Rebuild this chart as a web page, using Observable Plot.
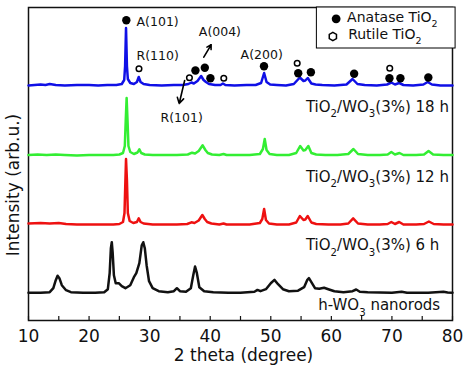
<!DOCTYPE html>
<html><head><meta charset="utf-8">
<script src="https://cdn.jsdelivr.net/npm/d3@7"></script>
<script src="https://cdn.jsdelivr.net/npm/@observablehq/plot@0.6"></script>
<style>body{margin:0;background:#fff}</style>
</head><body><div id="chart"></div>
<script>
// XRD patterns: [2theta (deg), relative intensity (arb. u.)]
const h18 = [[10,0.5],[11,1],[12,1.5],[12.8,1],[13.5,2],[14.5,1],[16,0.5],[18,1],[20,1],[21.5,0.5],[23,1],[24.5,1],[25.4,2],[25.8,6],[25.95,20],[26.1,58],[26.25,20],[26.4,7],[26.8,3],[27.4,2],[27.9,4],[28.2,9],[28.5,4],[29,2],[30,1],[32,0.5],[34,1],[35.5,1],[36.4,2],[36.9,3.5],[37.3,2.5],[37.9,5],[38.5,10],[38.9,6],[39.3,4],[39.8,2],[40.8,1],[41.7,1],[42.1,2.5],[42.5,1],[44,0.5],[46,1],[47.5,1],[48.4,3],[48.9,13],[49.3,4],[49.9,1.5],[51,1],[52.5,0.5],[53.8,2],[54.8,8.5],[55.4,5],[55.7,5.5],[56.1,8],[56.7,2.5],[57.4,1.5],[58.5,1],[60.5,0.5],[62.5,1.5],[63.5,7],[64.3,2],[65.5,1],[67.5,0.5],[69.2,1.5],[69.9,3.5],[70.5,1.5],[71.2,3],[71.9,1],[73.5,0.5],[75.2,1.5],[75.9,4],[76.6,1.5],[78,0.5],[80,0.5]];
const h12 = [[10,1],[11.5,1.5],[13,1],[14.5,1.5],[16,1],[18,0.5],[20,1],[22,1],[24,1],[25,1.5],[25.6,3],[25.9,10],[26.05,35],[26.2,58],[26.35,35],[26.5,10],[26.8,4],[27.4,2],[28,3.5],[28.3,6.7],[28.6,3],[29.2,1.5],[30.5,1],[32.5,1],[34.5,1],[36.3,1.5],[37.0,3.3],[37.5,2.5],[38.1,5],[38.75,10.7],[39.2,6],[39.6,3],[40.3,1.5],[41.5,1],[42.2,2],[42.7,1],[44.5,1],[46.5,1],[48.2,2],[48.7,7],[49.0,17],[49.3,6],[49.8,2],[51,1],[53,1],[54.2,3],[54.85,10],[55.4,5.5],[55.7,6],[56.2,10],[56.7,3],[57.5,1.5],[59,1],[61,1],[62.8,2],[63.65,7],[64.4,2],[66,1],[68,1],[69.3,1.5],[69.9,4],[70.5,1.5],[71.25,3],[71.9,1],[74,1],[75.3,1.5],[76.05,5],[76.8,1.5],[78.5,1],[80,1]];
const h6 = [[10,1.5],[12,2],[13.5,1.5],[15,2],[16.2,1],[18,0.5],[20,0.5],[22,0.5],[24,0.5],[25,1],[25.6,3],[25.85,12],[26.0,45],[26.1,66],[26.25,45],[26.4,12],[26.7,4],[27.3,2],[27.9,3],[28.2,6.7],[28.5,3],[29,1.5],[30.5,0.5],[32.5,0.5],[34.5,0.5],[36.2,1],[36.9,2.7],[37.4,2],[38.1,4.5],[38.7,10],[39.1,6],[39.5,3],[40.2,1.5],[41.5,0.5],[42.2,1.5],[42.7,0.5],[44.5,0.5],[46.5,0.5],[48.2,2],[48.6,6],[48.9,16],[49.2,5],[49.7,1.5],[51,0.5],[53,0.5],[54.2,2.5],[54.8,9],[55.4,5],[55.7,5.5],[56.1,9],[56.7,2.5],[57.5,1],[59.5,0.5],[61.5,0.5],[62.8,1.5],[63.6,6.7],[64.4,1.5],[66,0.5],[68,0.5],[69.3,1],[69.9,3],[70.5,1],[71.2,3],[71.9,0.5],[74,0.5],[75.3,1],[76.1,3.5],[76.9,1],[78.5,0.5],[80,0.5]];
const hWO3 = [[10,0.5],[12,0.5],[13.5,1],[14.1,5],[14.5,13],[14.8,17.5],[15.1,15],[15.5,8],[16.2,3],[17,1],[19,0.5],[21,0.5],[22.5,1],[23.1,4],[23.4,20],[23.6,45],[23.75,51],[23.9,40],[24.1,18],[24.4,10],[24.9,10],[25.4,7],[26,5],[26.8,8],[27.4,16],[27.8,20],[28.3,30],[28.7,48],[28.95,51],[29.2,45],[29.5,28],[29.9,12],[30.5,5],[31.5,2],[33,1],[34,2],[34.5,5],[35,2],[36,1.5],[36.8,5],[37.2,18],[37.5,26.7],[37.8,20],[38.2,6],[39,2],[40.5,1],[43,0.5],[45,0.5],[47.3,1.5],[47.8,3.3],[48.3,2],[49.2,4],[50,10],[50.6,13.3],[51.2,9],[52,4],[53,2],[54.5,2.5],[55.5,6],[56.0,13],[56.3,15],[56.7,11],[57.3,5],[58,4.5],[58.8,5.5],[59.5,4],[60.5,2],[62,1],[63.5,2],[64.1,3.7],[64.7,1.5],[66,1],[70,0.5],[71.6,1.5],[72.5,0.5],[76,0.5],[78.5,1.5],[79.2,0.8],[80,0.5]];

// vertical offsets of the stacked patterns
const offsets = {h18: 234.5, h12: 164.5, h6: 95.5, hWO3: 27.3};
const sampleNames = ["TiO_2/WO_3(3%) 18 h", "TiO_2/WO_3(3%) 12 h", "TiO_2/WO_3(3%) 6 h", "h-WO_3 nanorods"];

// phase markers above the 18 h pattern: [2theta, level]
const anatasePeaks = [[26.15,300.3],[37.56,250],[39.11,252.7],[40.03,242.3],[48.88,254.3],[54.53,247.3],[56.62,248.3],[63.76,246.7],[69.59,242.3],[71.40,242.3],[76.01,243]];
const rutilePeaks = [[28.24,251.7],[36.57,242.7],[42.24,242.3],[54.36,257.3],[69.64,252.3]];
const peakLabels = ["A(101)", "R(110)", "A(004)", "R(101)", "A(200)"];
const legendNames = ["Anatase TiO_2", "Rutile TiO_2"];

const xTickLabels = [10,20,30,40,50,60,70,80];
const xTicks = [10,15,20,25,30,35,40,45,50,55,60,65,70,75,80];

const ln = (data, key, color) => Plot.line(data, {x: d => d[0], y: d => d[1] + offsets[key], stroke: color, strokeWidth: 2.5, strokeLinejoin: "round"});

const chart = Plot.plot({
  width: 468, height: 377,
  marginLeft: 28, marginRight: 16, marginTop: 7, marginBottom: 57,
  x: {domain: [10, 80]},
  y: {domain: [0, 313], axis: null},
  style: {fontFamily: "DejaVu Sans, sans-serif", fontSize: "13px", color: "#111", background: "white", overflow: "visible"},
  marks: [
    Plot.frame({stroke: "#111", strokeWidth: 1.5}),
    Plot.ruleX(xTicks, {x: d => d, y1: 0, y2: 4, stroke: "#111", strokeWidth: 1.2}),
    Plot.axisX(xTickLabels, {tickSize: 0, tickPadding: 9, fontSize: 17, label: null}),
    Plot.text(["2 theta (degree)"], {frameAnchor: "bottom", dx: 3, dy: 40, fontSize: 17}),
    Plot.text(["Intensity (arb.u.)"], {frameAnchor: "left", textAnchor: "middle", rotate: -90, dx: -15, dy: 21, fontSize: 17}),
    ln(hWO3, "hWO3", "#111111"),
    ln(h6, "h6", "#ee1111"),
    ln(h12, "h12", "#33ee33"),
    ln(h18, "h18", "#1010e6"),
    Plot.dot(anatasePeaks, {x: d => d[0], y: d => d[1], r: 4.2, fill: "black", ariaLabel: "anatase"}),
    Plot.dot(rutilePeaks, {x: d => d[0], y: d => d[1], r: 2.8, fill: "white", stroke: "black", strokeWidth: 1.5, ariaLabel: "rutile"}),
    Plot.text([peakLabels[0]], {x: 27.84, y: 298.3, textAnchor: "start", fontSize: 12.5}),
    Plot.text([peakLabels[1]], {x: 27.84, y: 265, textAnchor: "start", fontSize: 12.5}),
    Plot.text([peakLabels[2]], {x: 38.12, y: 288.3, textAnchor: "start", fontSize: 12.5}),
    Plot.text([peakLabels[3]], {x: 31.8, y: 202.7, textAnchor: "start", fontSize: 12.5}),
    Plot.text([peakLabels[4]], {x: 48.5, y: 265.7, textAnchor: "middle", fontSize: 12.5}),
    Plot.arrow([0], {x1: 38.94, y1: 263.3, x2: 40.15, y2: 275.7, stroke: "black", strokeWidth: 1.6, headLength: 6}),
    Plot.arrow([0], {x1: 35.78, y1: 240, x2: 34.88, y2: 217, stroke: "black", strokeWidth: 1.6, headLength: 6}),
    Plot.text([sampleNames[0]], {x: 55.8, y: 213.3, textAnchor: "start", fontSize: 15}),
    Plot.text([sampleNames[1]], {x: 55.8, y: 143.3, textAnchor: "start", fontSize: 15}),
    Plot.text([sampleNames[2]], {x: 55.8, y: 75, textAnchor: "start", fontSize: 15}),
    Plot.text([sampleNames[3]], {x: 57.83, y: 15, textAnchor: "start", fontSize: 15}),
    Plot.rect([0], {x1: 57.61, x2: 80.51, y1: 272, y2: 313, fill: "white", stroke: "black", strokeWidth: 1}),
    Plot.dot([0], {x: 60.79, y: 301.7, r: 4.4, fill: "black"}),
    Plot.dot([0], {x: 60.25, y: 284, r: 3.6, symbol: "hexagon", fill: "white", stroke: "black", strokeWidth: 1.5}),
    Plot.text([legendNames[0]], {x: 62.6, y: 302.7, textAnchor: "start", fontSize: 14}),
    Plot.text([legendNames[1]], {x: 62.77, y: 285.7, textAnchor: "start", fontSize: 14})
  ]
});
document.getElementById("chart").appendChild(chart);

// ellipse-shaped anatase markers
d3.select(chart).selectAll('g[aria-label="anatase"] circle').each(function() {
  const cx = +this.getAttribute("cx"), cy = +this.getAttribute("cy");
  this.setAttribute("transform", `translate(${cx},${cy}) scale(1.15,0.88) translate(${-cx},${-cy})`);
});

// subscripts
d3.select(chart).selectAll("text").each(function() {
  const el = this;
  const txt = el.textContent;
  if (!txt.includes("_")) return;
  const fs = parseFloat(getComputedStyle(el).fontSize) || 14;
  const sh = fs * 0.35;
  while (el.firstChild) el.removeChild(el.firstChild);
  const parts = txt.split(/(_\d)/);
  let shifted = false;
  for (const p of parts) {
    if (!p) continue;
    const ts = document.createElementNS("http://www.w3.org/2000/svg", "tspan");
    if (p[0] === "_") {
      ts.textContent = p.slice(1);
      ts.setAttribute("font-size", (fs * 0.68) + "px");
      ts.setAttribute("dy", sh);
      shifted = true;
    } else {
      ts.textContent = p;
      if (shifted) { ts.setAttribute("dy", -sh); shifted = false; }
    }
    el.appendChild(ts);
  }
});
</script></body></html>
